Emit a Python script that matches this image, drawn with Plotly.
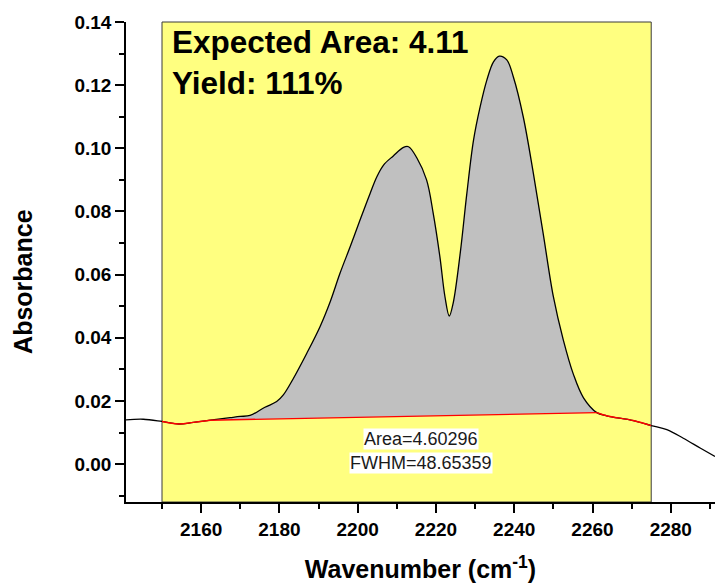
import plotly.graph_objects as go

# ---- data ----
wavenumber = [2140.8, 2145.2, 2150.0, 2154.3, 2158.0, 2162.3, 2167.4, 2170.0, 2172.5, 2176.3,
              2179.3, 2181.0, 2183.6, 2187.0, 2190.4, 2193.0, 2195.5, 2198.1, 2200.6, 2203.2,
              2204.9, 2206.6, 2209.1, 2211.7, 2213.0, 2215.1, 2217.6, 2219.3, 2221.0, 2222.3,
              2223.4, 2224.4, 2226.2, 2227.9, 2229.6, 2231.3, 2233.0, 2234.7, 2236.2, 2238.1,
              2239.8, 2242.3, 2244.9, 2247.4, 2250.0, 2252.5, 2255.1, 2257.7, 2261.1, 2263.6,
              2270.4, 2275.0, 2279.0, 2283.2, 2287.5, 2291.3]
absorbance = [0.0140, 0.0142, 0.0135, 0.0127, 0.0132, 0.0139, 0.0147, 0.0151, 0.0154, 0.0180,
              0.0198, 0.0219, 0.0272, 0.0351, 0.0436, 0.0515, 0.0605, 0.0689, 0.0773, 0.0858,
              0.0910, 0.0947, 0.0976, 0.1003, 0.1005, 0.0970, 0.0900, 0.0794, 0.0657, 0.0530,
              0.0469, 0.0510, 0.0668, 0.0858, 0.1026, 0.1132, 0.1216, 0.1274, 0.1292, 0.1280,
              0.1225, 0.1100, 0.0920, 0.0730, 0.0530, 0.0395, 0.0285, 0.0210, 0.0163, 0.0153,
              0.0138, 0.0122, 0.0109, 0.0082, 0.0051, 0.0024]

integration_range = [2150.0, 2275.0]   # yellow window
peak_range = [2162.3, 2261.1]          # baseline anchor points
expected_area = "4.11"
yield_pct = "111%"
area_value = "4.60296"
fwhm_value = "48.65359"

y_ticks = [0.00, 0.02, 0.04, 0.06, 0.08, 0.10, 0.12, 0.14]
x_ticks = [2160, 2180, 2200, 2220, 2240, 2260, 2280]

FONT = "Arial, Liberation Sans, sans-serif"

# ---- derived pieces ----
i0 = wavenumber.index(peak_range[0])
i1 = wavenumber.index(peak_range[1])
peak_x = wavenumber[i0:i1 + 1]
peak_y = absorbance[i0:i1 + 1]

left_x = [x for x in wavenumber if integration_range[0] <= x <= peak_range[0]]
left_y = [y for x, y in zip(wavenumber, absorbance) if integration_range[0] <= x <= peak_range[0]]
right_x = [x for x in wavenumber if peak_range[1] <= x <= integration_range[1]]
right_y = [y for x, y in zip(wavenumber, absorbance) if peak_range[1] <= x <= integration_range[1]]

fig = go.Figure()

# gray integrated area (closed back along the straight baseline)
fig.add_trace(go.Scatter(x=peak_x, y=peak_y, mode="lines", fill="toself",
                         fillcolor="#C0C0C0", line=dict(width=0, shape="spline"),
                         hoverinfo="skip", showlegend=False))
# full spectrum
fig.add_trace(go.Scatter(x=wavenumber, y=absorbance, mode="lines",
                         line=dict(color="black", width=1.3, shape="spline"),
                         showlegend=False))
# red baseline: follows the curve outside the peak, straight under it
red = dict(color="#FF0000", width=1.4)
fig.add_trace(go.Scatter(x=left_x, y=left_y, mode="lines",
                         line=dict(**red, shape="spline"), showlegend=False))
fig.add_trace(go.Scatter(x=[peak_x[0], peak_x[-1]], y=[peak_y[0], peak_y[-1]], mode="lines",
                         line=dict(**red, shape="linear"), showlegend=False))
fig.add_trace(go.Scatter(x=right_x, y=right_y, mode="lines",
                         line=dict(**red, shape="spline"), showlegend=False))

fig.add_shape(type="rect", xref="x", yref="paper",
              x0=integration_range[0], x1=integration_range[1], y0=0, y1=1,
              fillcolor="#FFFF80", line=dict(color="#3a3a3a", width=1), layer="below")

fig.add_annotation(x=integration_range[0], xref="x", xshift=8, y=0.1400, yref="y",
                   xanchor="left", yanchor="top", align="left", showarrow=False,
                   text=f"<b>Expected Area: {expected_area}<br>Yield: {yield_pct}</b>",
                   font=dict(family=FONT, size=31.5, color="black"))

label_x = (peak_range[0] + peak_range[1]) / 2 + 4.5
fig.add_annotation(x=label_x, y=0.0080, xref="x", yref="y", showarrow=False,
                   text=f"Area={area_value}", bgcolor="white", borderpad=0,
                   font=dict(family=FONT, size=18, color="#1a1a1a"))
fig.add_annotation(x=label_x, y=0.0004, xref="x", yref="y", showarrow=False,
                   text=f"FWHM={fwhm_value}", bgcolor="white", borderpad=0,
                   font=dict(family=FONT, size=18, color="#1a1a1a"))

# y-axis title (placed as in the reference, slightly below the axis centre)
fig.add_annotation(x=-0.175, xref="paper", y=0.058, yref="y", showarrow=False,
                   xanchor="center", yanchor="middle",
                   textangle=-90, text="<b>Absorbance</b>",
                   font=dict(family=FONT, size=25, color="black"))

fig.update_layout(
    width=715, height=584,
    margin=dict(l=126, r=0, t=22, b=82),
    paper_bgcolor="white", plot_bgcolor="white",
    font=dict(family=FONT, color="black"),
    showlegend=False,
)
fig.update_xaxes(range=[2140.8, 2291.3], tickvals=x_ticks, ticktext=[str(v) for v in x_ticks],
                 ticks="outside", ticklen=9, tickwidth=1.5, tickcolor="black",
                 showline=True, linecolor="black", linewidth=1.5, showgrid=False, zeroline=False,
                 tickfont=dict(family=FONT, size=19, color="black", weight="bold"),
                 minor=dict(dtick=10, tick0=2150, ticks="outside", ticklen=5, tickwidth=1.5,
                            tickcolor="black", showgrid=False),
                 title=dict(text="<b>Wavenumber (cm<sup>-1</sup>)</b>", standoff=22,
                            font=dict(family=FONT, size=25, color="black")))
fig.update_yaxes(range=[-0.012, 0.14], tickvals=y_ticks, ticktext=[f"{v:.2f}" for v in y_ticks],
                 ticks="outside", ticklen=9, tickwidth=1.5, tickcolor="black",
                 showline=True, linecolor="black", linewidth=1.5, showgrid=False, zeroline=False,
                 tickfont=dict(family=FONT, size=19, color="black", weight="bold"),
                 minor=dict(dtick=0.01, tick0=0, ticks="outside", ticklen=5, tickwidth=1.5,
                            tickcolor="black", showgrid=False))

fig.write_html("out.html")
